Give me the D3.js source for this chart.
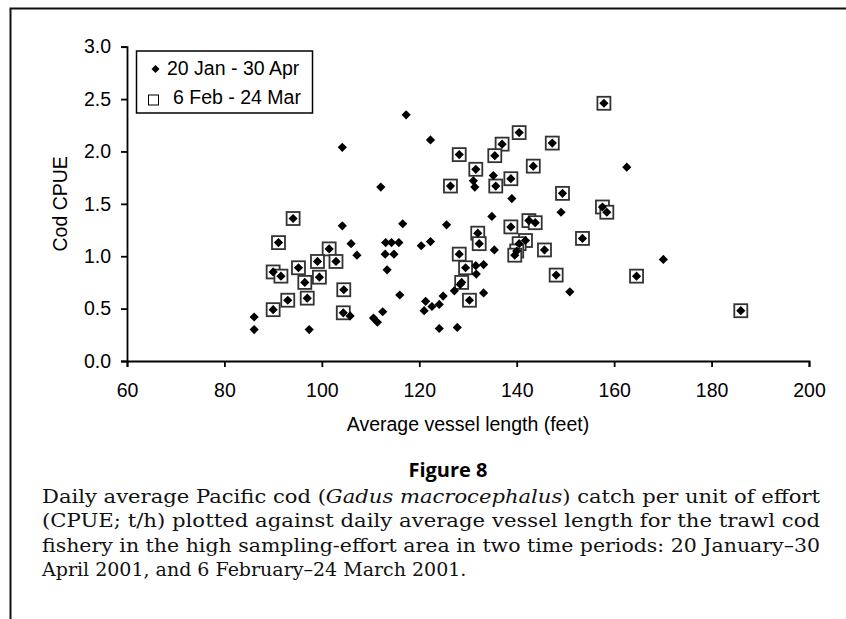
<!DOCTYPE html>
<html>
<head>
<meta charset="utf-8">
<script src="https://cdnjs.cloudflare.com/ajax/libs/d3/7.8.5/d3.min.js"></script>
<style>
  body { margin: 0; background: #fff; }
  svg { display: block; }
  .axis path, .axis line { stroke: #000; stroke-width: 1.8; }
  .axis text { font-family: "Liberation Sans", Arial, sans-serif; font-size: 19.5px; fill: #000; }
</style>
</head>
<body>
<div id="chart"></div>
<script>
// x tick values and y tick values
var xTicks = [60, 80, 100, 120, 140, 160, 180, 200];
var yTicks = [0, 0.5, 1.0, 1.5, 2.0, 2.5, 3.0];

// series labels
var seriesNames = ["20 Jan - 30 Apr", "6 Feb - 24 Mar"];

// days in 6 Feb - 24 Mar (open squares); each also belongs to the full period
var febMar = [
  [94.1, 1.36], [91.1, 1.13], [101.5, 1.07], [99.1, 0.95], [102.9, 0.95],
  [95.2, 0.89], [90.0, 0.85], [91.6, 0.81], [99.5, 0.80], [96.5, 0.75],
  [104.5, 0.68], [97.0, 0.60], [93.0, 0.58], [90.0, 0.49], [104.4, 0.46],
  [140.5, 2.18], [147.3, 2.08], [137.0, 2.07], [128.2, 1.97], [135.5, 1.96],
  [143.4, 1.86], [131.6, 1.83], [138.8, 1.74], [126.4, 1.67], [135.7, 1.67],
  [149.4, 1.60], [157.6, 1.47], [158.5, 1.42], [138.8, 1.28], [142.5, 1.34],
  [143.8, 1.32], [132.0, 1.22], [132.3, 1.12], [141.8, 1.15], [153.5, 1.17],
  [145.7, 1.06], [140.5, 1.12], [140.0, 1.05], [139.6, 1.01], [128.2, 1.02],
  [129.5, 0.89], [128.7, 0.75], [130.3, 0.58], [148.1, 0.82], [157.9, 2.46],
  [164.6, 0.81], [186.0, 0.48]
];

// remaining days of 20 Jan - 30 Apr (outside the Feb-Mar window)
var otherDays = [
  [104.2, 2.04], [112.1, 1.66], [104.2, 1.29], [116.6, 1.31], [106.0, 1.12],
  [113.1, 1.13], [114.3, 1.13], [115.8, 1.13], [120.4, 1.10], [122.3, 1.14],
  [107.2, 1.01], [113.0, 1.02], [114.8, 1.02], [113.4, 0.87], [116.0, 0.63],
  [121.3, 0.57], [121.0, 0.48], [105.8, 0.43], [112.5, 0.47], [110.6, 0.41],
  [111.4, 0.37], [86.1, 0.42], [86.1, 0.30], [97.4, 0.30],
  [117.3, 2.35], [122.3, 2.11], [131.1, 1.72], [131.4, 1.66], [135.2, 1.77],
  [139.0, 1.55], [149.1, 1.42], [125.6, 1.30], [134.9, 1.38], [135.4, 1.06],
  [131.6, 0.91], [133.2, 0.92], [131.7, 0.83], [128.4, 0.73], [127.2, 0.67],
  [133.2, 0.65], [150.9, 0.66], [124.9, 0.62], [122.6, 0.52], [124.1, 0.54],
  [124.1, 0.31], [127.8, 0.32], [162.6, 1.85], [170.1, 0.97]
];

var allDays = otherDays.concat(febMar);

// caption text
var figTitle = "Figure 8";
var captionLines = [
  ["Daily average Pacific cod (", "Gadus macrocephalus", ") catch per unit of effort"],
  ["(CPUE; t/h) plotted against daily average vessel length for the trawl cod"],
  ["fishery in the high sampling-effort area in two time periods: 20 January\u201330"],
  ["April 2001, and 6 February\u201324 March 2001."]
];

//////////////////////////
// setup plot
//////////////////////////
var width = 846, height = 619;

var svg = d3.select("#chart").append("svg")
  .attr("width", width)
  .attr("height", height);

// page frame (left and top rule)
svg.append("path")
  .attr("d", "M10.5,619 V8.5 H846")
  .attr("fill", "none")
  .attr("stroke", "#111")
  .attr("stroke-width", 2);

// scales
var x = d3.scaleLinear().domain([60, 200]).range([127, 809]);
var y = d3.scaleLinear().domain([0, 3]).range([361, 46.7]);

// axes
svg.append("g")
  .attr("class", "axis")
  .attr("transform", "translate(0," + y(0) + ")")
  .call(d3.axisBottom(x).tickValues(xTicks).tickSizeOuter(0).tickSize(6).tickPadding(16).tickFormat(d3.format("d")));

svg.append("g")
  .attr("class", "axis")
  .attr("transform", "translate(" + x(60) + ",0)")
  .call(d3.axisLeft(y).tickValues(yTicks).tickSizeOuter(0).tickSize(6).tickPadding(10).tickFormat(d3.format(".1f")));

// axis titles
svg.append("text")
  .attr("x", (x(60) + x(200)) / 2)
  .attr("y", 431)
  .attr("text-anchor", "middle")
  .style("font-family", "Liberation Sans, Arial, sans-serif")
  .style("font-size", "19.5px")
  .text("Average vessel length (feet)");

svg.append("text")
  .attr("transform", "translate(67," + (y(0) + y(3)) / 2 + ") rotate(-90)")
  .attr("text-anchor", "middle")
  .style("font-family", "Liberation Sans, Arial, sans-serif")
  .style("font-size", "19.5px")
  .text("Cod CPUE");

// markers
var diamond = function(r) { return "M0," + (-r) + "L" + r + ",0L0," + r + "L" + (-r) + ",0Z"; };
var sq = 13;

svg.append("g").selectAll("rect")
  .data(febMar)
  .enter().append("rect")
  .attr("x", function(d) { return x(d[0]) - sq / 2; })
  .attr("y", function(d) { return y(d[1]) - sq / 2; })
  .attr("width", sq)
  .attr("height", sq)
  .attr("fill", "#fff")
  .attr("stroke", "#333")
  .attr("stroke-width", 1.8);

svg.append("g").selectAll("path")
  .data(allDays)
  .enter().append("path")
  .attr("transform", function(d) { return "translate(" + x(d[0]) + "," + y(d[1]) + ")"; })
  .attr("d", diamond(4.6))
  .attr("fill", "#000");

// legend
var legend = svg.append("g");
legend.append("rect")
  .attr("x", 136.5).attr("y", 51)
  .attr("width", 176).attr("height", 62)
  .attr("fill", "#fff")
  .attr("stroke", "#000")
  .attr("stroke-width", 1.5);
legend.append("path")
  .attr("transform", "translate(155.5,69)")
  .attr("d", diamond(4))
  .attr("fill", "#000");
legend.append("rect")
  .attr("x", 148.5).attr("y", 95)
  .attr("width", 10).attr("height", 10)
  .attr("fill", "#fff")
  .attr("stroke", "#000")
  .attr("stroke-width", 1);
legend.selectAll("text")
  .data(seriesNames)
  .enter().append("text")
  .attr("x", function(d, i) { return i ? 173 : 167; })
  .attr("y", function(d, i) { return i ? 104 : 75; })
  .style("font-family", "Liberation Sans, Arial, sans-serif")
  .style("font-size", "19.5px")
  .text(function(d) { return d; });

// figure title
svg.append("text")
  .attr("x", 448)
  .attr("y", 477)
  .attr("text-anchor", "middle")
  .style("font-family", "Open Sans, Noto Sans, sans-serif")
  .style("font-weight", "bold")
  .style("font-size", "20px")
  .text(figTitle);

// caption
var cap = svg.append("g")
  .style("font-family", "DejaVu Serif, serif")
  .style("font-size", "19px")
  .attr("fill", "#111");

captionLines.forEach(function(parts, i) {
  var t = cap.append("text")
    .attr("x", 42)
    .attr("y", 503 + i * 24.4);
  if (i < captionLines.length - 1) {
    t.attr("textLength", 778).attr("lengthAdjust", "spacingAndGlyphs");
  }
  parts.forEach(function(p, j) {
    var s = t.append("tspan").text(p);
    if (parts.length > 1 && j === 1) s.style("font-style", "italic");
  });
});
</script>
</body>
</html>
